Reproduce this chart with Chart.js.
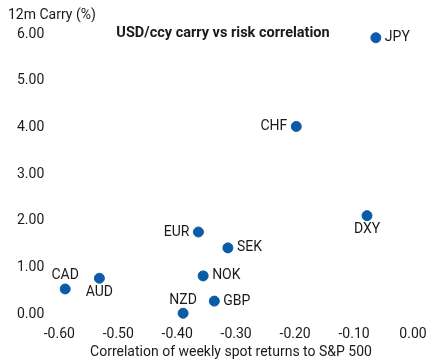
<!DOCTYPE html>
<html>
<head>
<meta charset="utf-8">
<script src="https://cdn.jsdelivr.net/npm/chart.js@4"></script>
<style>
  body { margin: 0; background: #fff; }
  #wrap { width: 435px; height: 364px; }
</style>
</head>
<body>
<div id="wrap"><canvas id="chart"></canvas></div>
<script>
const currencies = ["JPY", "CHF", "DXY", "EUR", "SEK", "CAD", "AUD", "NOK", "GBP", "NZD"];
const correlation = [-0.063, -0.198, -0.078, -0.364, -0.314, -0.590, -0.532, -0.356, -0.337, -0.390];
const carry = [5.92, 4.02, 2.11, 1.76, 1.42, 0.54, 0.77, 0.82, 0.28, 0.02];
const xTicks = [-0.6, -0.5, -0.4, -0.3, -0.2, -0.1, 0];
const yTicks = [0, 1, 2, 3, 4, 5, 6];

// where each label sits relative to its dot
const labelSide = {
    JPY: "right", CHF: "left", DXY: "below", EUR: "left", SEK: "right",
    CAD: "above", AUD: "below", NOK: "right", GBP: "right", NZD: "above"
};

const blue = "#0b5ca8";
const font = "Roboto, 'Liberation Sans', sans-serif";

const pointLabels = {
    id: "pointLabels",
    afterDatasetsDraw(chart) {
        const ctx = chart.ctx;
        const meta = chart.getDatasetMeta(0);
        ctx.save();
        ctx.font = "14px " + font;
        ctx.fillStyle = "#1a1a1a";
        meta.data.forEach((pt, i) => {
            const name = currencies[i];
            const side = labelSide[name];
            if (side === "right") {
                ctx.textAlign = "left"; ctx.textBaseline = "middle";
                ctx.fillText(name, pt.x + 9, pt.y);
            } else if (side === "left") {
                ctx.textAlign = "right"; ctx.textBaseline = "middle";
                ctx.fillText(name, pt.x - 9, pt.y);
            } else if (side === "above") {
                ctx.textAlign = "center"; ctx.textBaseline = "middle";
                ctx.fillText(name, pt.x, pt.y - 13);
            } else {
                ctx.textAlign = "center"; ctx.textBaseline = "middle";
                ctx.fillText(name, pt.x, pt.y + 14);
            }
        });
        // titles
        ctx.textAlign = "left"; ctx.textBaseline = "middle";
        ctx.font = "14px " + font;
        ctx.fillText("12m Carry (%)", 8, 15);
        ctx.textAlign = "center";
        ctx.fillText("Correlation of weekly spot returns to S&P 500", 231, 352);
        ctx.font = "bold 14.5px " + font;
        ctx.fillText("USD/ccy carry vs risk correlation", 223, 33);
        ctx.restore();
    }
};

new Chart("chart", {
    type: "scatter",
    data: {
        datasets: [{
            data: correlation.map((x, i) => ({ x: x, y: carry[i] })),
            backgroundColor: blue,
            borderColor: blue,
            pointRadius: 5,
            pointHoverRadius: 5,
            clip: false
        }]
    },
    options: {
        responsive: true,
        maintainAspectRatio: false,
        animation: false,
        layout: { padding: { top: 34, right: 22, left: 2, bottom: 9 } },
        plugins: {
            legend: { display: false },
            tooltip: { enabled: false }
        },
        scales: {
            x: {
                type: "linear",
                min: -0.6,
                max: 0,
                afterBuildTicks: s => { s.ticks = xTicks.map(v => ({ value: v })); },
                afterFit: s => { s.paddingRight = 0; },
                grid: { display: false, drawTicks: false },
                border: { display: false },
                ticks: {
                    color: "#1a1a1a",
                    font: { family: font, size: 14 },
                    padding: 12,
                    maxRotation: 0,
                    callback: v => v.toFixed(2)
                }
            },
            y: {
                min: 0,
                max: 6,
                afterBuildTicks: s => { s.ticks = yTicks.map(v => ({ value: v })); },
                grid: { display: false, drawTicks: false },
                border: { display: false },
                ticks: {
                    color: "#1a1a1a",
                    font: { family: font, size: 14 },
                    padding: 15,
                    callback: v => v.toFixed(2)
                }
            }
        }
    },
    plugins: [pointLabels]
});
</script>
</body>
</html>
